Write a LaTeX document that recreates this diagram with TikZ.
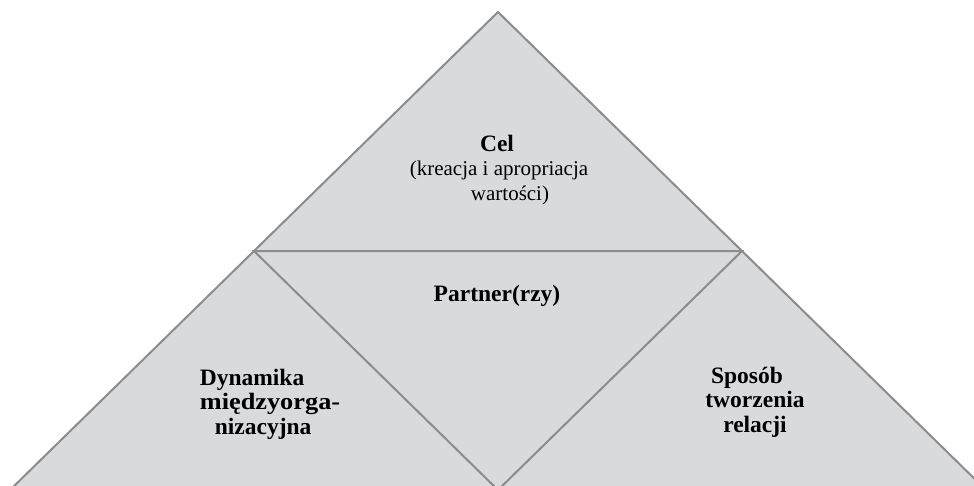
\documentclass[tikz,border=0pt]{standalone}
\usepackage{fontspec}
\setmainfont{Liberation Serif}
\usetikzlibrary{positioning}
\definecolor{paneface}{HTML}{D9DADC}
\definecolor{paneedge}{HTML}{8C8C8E}
\tikzset{
  pane/.style={fill=paneface,draw=paneedge,line width=2pt,line join=miter},
  divide/.style={draw=paneedge,line width=2pt,line join=miter},
  head/.style={font=\bfseries\fontsize{23.5}{24.5}\selectfont,align=center,inner sep=0pt,anchor=base},
  gloss/.style={font=\fontsize{21}{24.5}\selectfont,align=center,inner sep=0pt,anchor=base}
}

\begin{document}
\begin{tikzpicture}[x=1pt,y=-1pt]
\useasboundingbox (0,0) rectangle (974,485);
\coordinate (apex) at (498,12);
\coordinate (baseleft) at (10,490);
\coordinate (baseright) at (986,490);
\coordinate (midleft) at (254,251);
\coordinate (midright) at (742,251);
\coordinate (midbase) at (498,490);

\begin{scope}
\clip (0,0) rectangle (974,485);
\filldraw[pane] (apex) -- (baseright) -- (baseleft) -- cycle;
\draw[divide] (midleft) -- (midright) -- (midbase) -- cycle;
\end{scope}

% labels, placed by the baseline of their last line
\node[head] (goal) at (497,151) {Cel};
\node[gloss] (goalnote) at (499,200) {(kreacja i apropriacja\\\hspace*{22pt}wartości)};
\node[head] (partner) at (497,301) {Partner(rzy)};
\node[head,align=left] (dynamics) at (270,434) {Dynamika\\\scalebox{1.12}[1]{międzyorga-}\\\hspace*{15pt}nizacyjna};
\node[head] (mode) at (755,432) {Sposób\hspace*{16pt}\\tworzenia\\relacji};
\end{tikzpicture}
\end{document}
